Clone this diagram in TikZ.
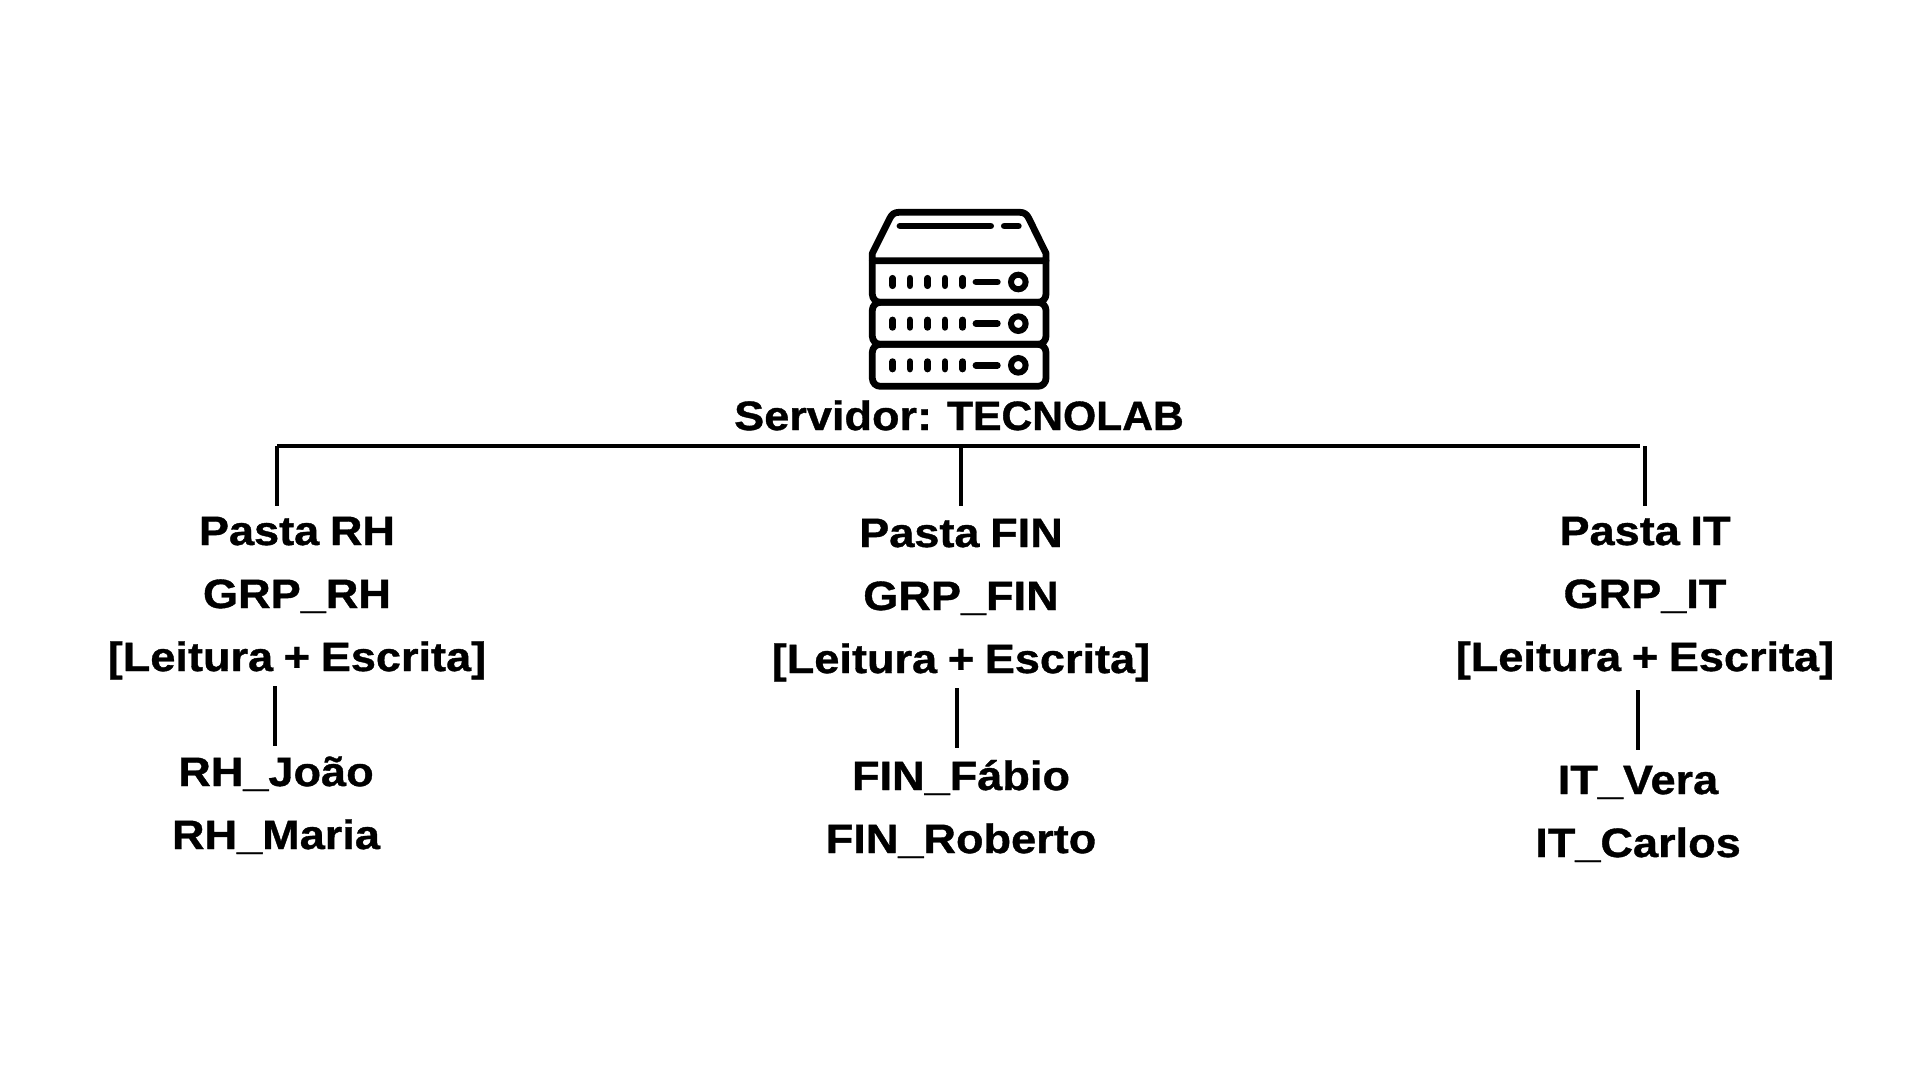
\documentclass[tikz,border=0pt]{standalone}
\usepackage{fontspec}
\setmainfont{Liberation Sans}
\newfontfamily\lblfont{Liberation Sans}[UprightFont=* Bold,FakeStretch=1.1,FakeBold=0.9,WordSpace=0.85]
\newfontfamily\capfont{Liberation Sans}[UprightFont=* Bold,FakeStretch=1.04,FakeBold=0.9,WordSpace=0.85]
\begin{document}
\begin{tikzpicture}[x=1pt,y=-1pt,
  lbl/.style={anchor=base,inner sep=0pt,font=\lblfont\fontsize{41}{46}\selectfont,text=black},
  wire/.style={line width=3.6pt,black},
  ico/.style={line width=6.8pt,black,line cap=round,line join=round},
  led/.style={line width=6.8pt,black,line cap=round}]
\useasboundingbox[fill=white] (0,0) rectangle (1920,1080);
% server icon
\begin{scope}[shift={(840,190)},x=0.3333pt,y=-0.3333pt]
 \draw[ico] (97,212) -- (97,190) -- (150,84) .. controls (156,73) and (163,67) .. (176,67) -- (540,67) .. controls (553,67) and (560,73) .. (566,84) -- (618,190) -- (618,212) -- cycle;
 \draw[ico,rounded corners=8pt] (97,212) -- (97,337) -- (618,337) -- (618,212);
 \draw[ico,rounded corners=8pt] (97,337) -- (97,463) -- (618,463) -- (618,337) -- cycle;
 \draw[ico,rounded corners=8pt] (97,463) -- (97,589) -- (618,589) -- (618,463) -- cycle;
 \draw[led] (180,108) -- (452,108);
 \draw[led] (493,108) -- (535,108);
 \foreach \yy in {276,401,526}{
  \foreach \xx in {158,210,263,315,368}{\draw[led] (\xx,\yy-11) -- (\xx,\yy+11);}
  \draw[led] (408,\yy) -- (472,\yy);
  \draw[line width=6pt,black] (535,\yy) circle[radius=7.3pt];
 }
\end{scope}
% labels
\node[lbl] (srv) at (959,430) {Servidor: {\capfont\fontsize{41}{46}\selectfont TECNOLAB}};
\node[lbl] (fa) at (297,545) {Pasta RH};
\node[lbl] (ga) at (297,608) {GRP\_RH};
\node[lbl] (pa) at (297,671) {[Leitura + Escrita]};
\node[lbl] (ua) at (276,786) {RH\_João};
\node[lbl] (va) at (276,849) {RH\_Maria};
\node[lbl] (fb) at (961,547) {Pasta FIN};
\node[lbl] (gb) at (961,610) {GRP\_FIN};
\node[lbl] (pb) at (961,673) {[Leitura + Escrita]};
\node[lbl] (ub) at (961,790) {FIN\_Fábio};
\node[lbl] (vb) at (961,853) {FIN\_Roberto};
\node[lbl] (fc) at (1645,545) {Pasta IT};
\node[lbl] (gc) at (1645,608) {GRP\_IT};
\node[lbl] (pc) at (1645,671) {[Leitura + Escrita]};
\node[lbl] (uc) at (1638,794) {IT\_Vera};
\node[lbl] (vc) at (1638,857) {IT\_Carlos};
% connectors
\coordinate (busl) at (277,446);
\coordinate (busm) at (961,446);
\coordinate (busr) at (1640,446);
\coordinate (rtop) at (1645,446);
\coordinate (la) at (277,506);
\coordinate (lb) at (961,506);
\coordinate (lc) at (1645,506);
\coordinate (s1) at (275,686);
\coordinate (e1) at (275,746);
\coordinate (s2) at (957,688);
\coordinate (e2) at (957,748);
\coordinate (s3) at (1638,690);
\coordinate (e3) at (1638,750);
\draw[wire] (busl) -- (busr);
\draw[wire] (busl) -- (la);
\draw[wire] (busm) -- (lb);
\draw[wire] (rtop) -- (lc);
\draw[wire] (s1) -- (e1);
\draw[wire] (s2) -- (e2);
\draw[wire] (s3) -- (e3);
\end{tikzpicture}
\end{document}
